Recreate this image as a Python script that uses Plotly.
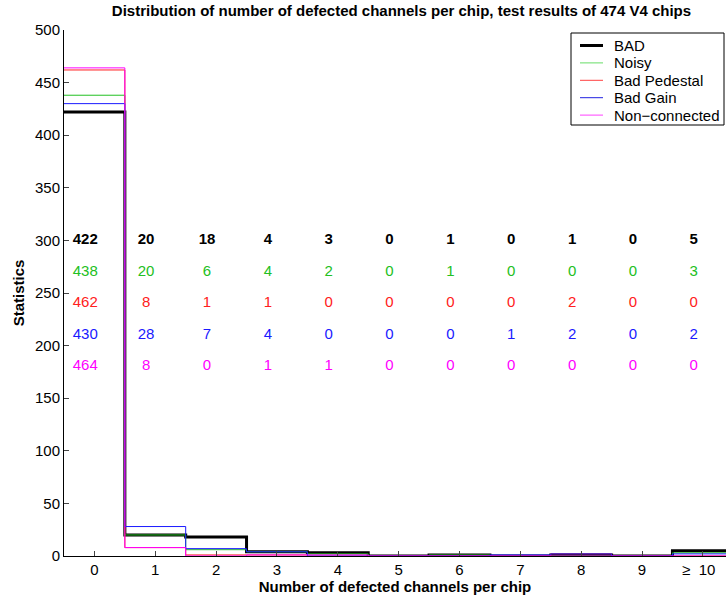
import plotly.graph_objects as go

categories = [0, 1, 2, 3, 4, 5, 6, 7, 8, 9, 10]
NB = "\u00a0"
tick_labels = ["0", "1", "2", "3", "4", "5", "6", "7", "8", "9",
               "\u2265" + NB * 2 + "10" + NB * 2]

series_names = ["BAD", "Noisy", "Bad Pedestal", "Bad Gain", "Non\u2212connected"]
bad = [422, 20, 18, 4, 3, 0, 1, 0, 1, 0, 5]
noisy = [438, 20, 6, 4, 2, 0, 1, 0, 0, 0, 3]
bad_pedestal = [462, 8, 1, 1, 0, 0, 0, 0, 2, 0, 0]
bad_gain = [430, 28, 7, 4, 0, 0, 0, 1, 2, 0, 2]
non_connected = [464, 8, 0, 1, 1, 0, 0, 0, 0, 0, 0]
label_rows = [300, 270, 240, 210, 180]

all_series = [bad, noisy, bad_pedestal, bad_gain, non_connected]
colors = ["#000000", "#22c022", "#ff2020", "#1a1aff", "#ff00ff"]
legend_colors = ["#000000", "#66dd66", "#ff4040", "#2020e0", "#ff40ff"]
widths = [3, 1, 1, 1, 1]

FONT = "Liberation Sans, Arial, Helvetica, sans-serif"

W, H = 726, 601
ML, MR, MT, MB = 64, 0, 30, 45
PW, PH = W - ML - MR, H - MT - MB


def px_x(px):
    return (px - ML) / PW


def px_y(py):
    return (H - MB - py) / PH


fig = go.Figure()

edges = [c - 0.5 for c in categories] + [categories[-1] + 0.5]
for name, vals, col, w in zip(series_names, all_series, colors, widths):
    fig.add_trace(go.Scatter(
        x=edges, y=list(vals) + [vals[-1]], mode="lines",
        line=dict(color=col, width=w, shape="hv"),
        name=name, showlegend=False,
    ))

for vals, col, yrow, i in zip(all_series, colors, label_rows, range(5)):
    fig.add_trace(go.Scatter(
        x=[c - 0.15 for c in categories], y=[yrow] * len(categories),
        mode="text", text=[str(v) for v in vals],
        textfont=dict(color=col, size=15, family=FONT),
        texttemplate=("<b>%{text}</b>" if i == 0 else "%{text}"),
        showlegend=False, hoverinfo="skip",
    ))

# manual legend box (layout decoration)
shapes = [dict(type="rect", xref="paper", yref="paper",
               x0=px_x(571), x1=px_x(724), y0=px_y(125), y1=px_y(33),
               line=dict(color="black", width=1), fillcolor="white", layer="above")]
annotations = []
row0, dy = 45.5, 17.4
for k, (name, col, w) in enumerate(zip(series_names, legend_colors, widths)):
    yy = px_y(row0 + k * dy)
    shapes.append(dict(type="line", xref="paper", yref="paper",
                       x0=px_x(580), x1=px_x(603), y0=yy, y1=yy,
                       line=dict(color=col, width=w), layer="above"))
    annotations.append(dict(xref="paper", yref="paper", x=px_x(612), y=yy,
                            xanchor="left", yanchor="middle", showarrow=False,
                            text=name, font=dict(size=15, family=FONT, color="black")))

fig.update_layout(
    width=W, height=H,
    margin=dict(l=ML, r=MR, t=MT, b=MB, autoexpand=False),
    paper_bgcolor="white", plot_bgcolor="white",
    font=dict(family=FONT, size=15, color="black"),
    title=dict(
        text="<b>Distribution of number of defected channels per chip, test results of 474 V4 chips</b>",
        x=0.553, xanchor="center", y=0.982, yanchor="middle",
        font=dict(size=15, family=FONT),
    ),
    xaxis=dict(
        range=[-0.5, 10.38], tickmode="array", tickvals=categories, ticktext=tick_labels,
        ticks="inside", ticklen=5, tickcolor="#444", showgrid=False, zeroline=False,
        showline=True, linecolor="black", linewidth=1, automargin=False,
        tickfont=dict(size=15), ticklabeloverflow="allow",
        title=dict(text="<b>Number of defected channels per chip</b>", standoff=2, font=dict(size=15)),
    ),
    yaxis=dict(
        range=[0, 500], tickmode="array", tickvals=list(range(0, 501, 50)),
        ticks="inside", ticklen=5, tickcolor="#444", showgrid=False, zeroline=False,
        showline=True, linecolor="black", linewidth=1, automargin=False,
        tickfont=dict(size=15),
        title=dict(text="<b>Statistics</b>", standoff=6, font=dict(size=15)),
    ),
    shapes=shapes,
    annotations=annotations,
    showlegend=False,
)

fig.write_html("out.html")
